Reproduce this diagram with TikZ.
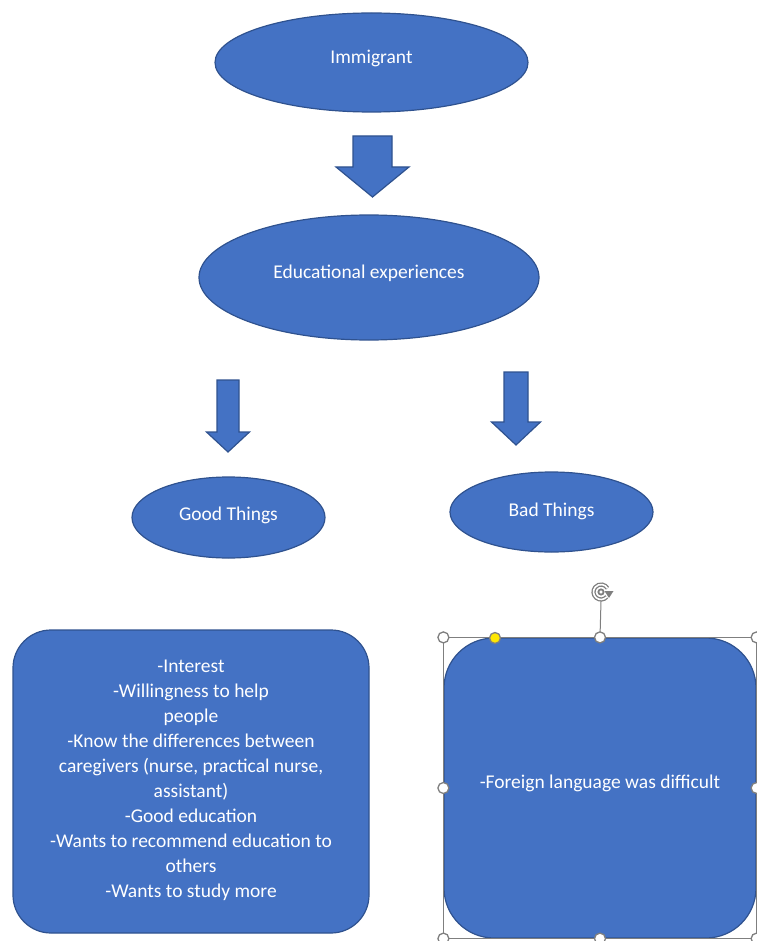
\documentclass[tikz,border=0pt]{standalone}
\usepackage{fontspec}
\setmainfont{Carlito}
\usetikzlibrary{shapes.geometric,arrows.meta,positioning}
\definecolor{office}{HTML}{4472C4}
\definecolor{officeline}{HTML}{2F528F}
\definecolor{handlegray}{HTML}{7F7F7F}
\tikzstyle{bubble} = [draw=officeline,fill=office,line width=1.2pt,ellipse,inner sep=0,text=white,font=\fontsize{19.5}{25}\selectfont]
\tikzstyle{card} = [draw=officeline,fill=office,line width=1.2pt,rectangle,inner sep=0,text=white,align=center,font=\fontsize{19.5}{25}\selectfont]
\tikzstyle{fat} = [draw=officeline,fill=office,line width=1.2pt,line join=miter]
\tikzstyle{grip} = [draw=handlegray,fill=white,line width=1.3pt]
% block arrow: centre x, top, neck, tip, half shaft, half head
\newcommand{\blockarrow}[6]{
  \draw[fat] (#1-#5,#2) -- (#1+#5,#2) -- (#1+#5,#3) -- (#1+#6,#3) -- (#1,#4)
    -- (#1-#6,#3) -- (#1-#5,#3) -- cycle;}
\def \gr {5.5}

\begin{document}
\begin{tikzpicture}[x=1pt,y=-1pt]
  \useasboundingbox (0,0) rectangle (756,941);
  % top part
  \node[bubble,minimum width=313,minimum height=99] (immi) at (371.5,62.5) {\raisebox{12pt}{Immigrant}};
  \blockarrow{372.5}{136}{167}{197}{19.5}{36.5}
  \node[bubble,minimum width=340,minimum height=125] (edu) at (369,277.5) {\raisebox{12pt}{Educational experiences}};
  \blockarrow{228}{380}{432}{452}{11}{21.5}
  \blockarrow{516}{372}{422}{445}{12}{24.5}
  % good and bad
  \node[bubble,minimum width=193,minimum height=81] (good) at (228.5,517.5) {\raisebox{7pt}{Good Things}};
  \node[bubble,minimum width=203,minimum height=80] (bad) at (551.5,512) {\raisebox{4pt}{Bad Things}};
  \node[card,rounded corners=38,minimum width=356,minimum height=303] (goodlist) at (191,781.5)
    {-Interest\\-Willingness to help\\people\\-Know the differences between\\caregivers (nurse, practical nurse,\\assistant)\\-Good education\\-Wants to recommend education to\\others\\-Wants to study more\rule[-5pt]{0pt}{5pt}};
  \node[card,rounded corners=50,minimum width=312,minimum height=300] (badlist) at (600,788)
    {\raisebox{13pt}{-Foreign language was difficult}};
  % selection frame
  \draw[handlegray,line width=0.8pt] (badlist.north west) rectangle (badlist.south east);
  \draw[handlegray,line width=1pt] (badlist.north) -- (601,601);
  \draw[handlegray,line width=4.2pt] (601,592) ++(40:7.5) arc (40:330:7.5);
  \draw[white,line width=1.6pt] (601,592) ++(40:7.5) arc (40:330:7.5);
  \fill[handlegray] (613.5,591) -- (604.5,591) -- (609,598) -- cycle;
  \draw[handlegray,line width=1.8pt] (601,592) circle (2.6);
  \foreach \a in {north west,north,north east,west,east,south west,south,south east}
    \draw[grip] (badlist.\a) circle (\gr);
  \draw[draw=handlegray,fill=yellow!90!orange,line width=1.3pt] (495,638) circle (\gr);
\end{tikzpicture}
\end{document}
